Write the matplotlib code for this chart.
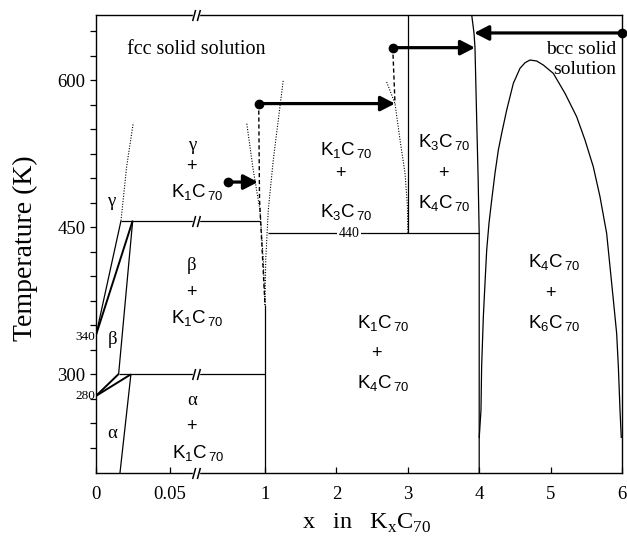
import numpy as np
import matplotlib
matplotlib.use('Agg')
import matplotlib.pyplot as plt
from matplotlib.path import Path

# ---------------- data ----------------
# broken x axis: [0, 0.0676] expanded, then compressed to 1, then linear 1..6
X_BREAK = [0.0, 0.0676, 1.0, 6.0]
U_BREAK = [0.0, 100.0, 169.0, 526.0]
X_BREAK_MARK = 0.0676

T_MIN, T_MAX = 199.4, 666.3
Y_TICKS = list(range(225, 651, 25))
Y_LABELED = [300, 450, 600]
X_TICKS = [0, 0.05, 1, 2, 3, 4, 5, 6]
X_TICK_LABELS = ['0', '0.05', '1', '2', '3', '4', '5', '6']

# low-x region boundaries (x, T)
GB_LEFT_X, GB_LEFT_T = [0.0, 0.0169], [340.0, 456.6]
GB_RIGHT_X, GB_RIGHT_T = [0.0, 0.0248], [340.0, 456.6]
BETA_X, BETA_T = [0.0248, 0.0153], [456.6, 300.3]
BA_LEFT_X, BA_LEFT_T = [0.0, 0.0153], [278.0, 300.3]
BA_RIGHT_X, BA_RIGHT_T = [0.0, 0.0236], [278.0, 300.0]
ALPHA_X, ALPHA_T = [0.0236, 0.0162], [300.0, 199.4]
GAMMA_DOT_X, GAMMA_DOT_T = [0.0169, 0.0207, 0.0252], [456.6, 511.6, 556.5]
H456_X, H456_T = [0.0169, 0.932], [456.6, 456.6]
H300_X, H300_T = [0.0153, 1.0], [300.0, 300.0]
H440_X, H440_T = [1.04, 4.0], [443.6, 443.6]

# x = 1 boundaries
X1_SOLID_X, X1_SOLID_T = [1.0, 1.0], [199.4, 370.6]
X1_DOT_L_X = [1.0, 0.977, 0.932, 0.841, 0.753]
X1_DOT_L_T = [370.6, 416.5, 467.5, 508.3, 555.9]
X1_DOT_R_X = [1.0, 1.01, 1.046, 1.116, 1.256]
X1_DOT_R_T = [370.6, 416.5, 467.5, 518.5, 600.0]
X1_DASH_X = [0.915, 0.926, 1.0]
X1_DASH_T = [576.0, 478.0, 370.6]

# x = 3 boundaries
X3_SOLID_X, X3_SOLID_T = [3.0, 3.0], [443.6, 666.3]
X3_DOT_X = [2.704, 2.821, 2.891, 2.961, 2.995, 3.0]
X3_DOT_T = [598.0, 576.0, 539.0, 505.0, 471.0, 443.6]
X3_DASH_X, X3_DASH_T = [2.789, 2.821], [633.0, 576.0]

# fcc / bcc boundary near x = 4
FB_X = [3.895, 3.927, 3.941, 3.965, 3.985, 4.0, 4.0]
FB_T = [666.3, 648.0, 633.0, 559.0, 500.0, 443.6, 199.4]

# K4C70 + K6C70 dome
DOME_X = [4.0, 4.025, 4.034, 4.058, 4.081, 4.105, 4.137, 4.175, 4.221, 4.268,
          4.315, 4.385, 4.478, 4.571, 4.641, 4.711, 4.805, 4.898, 5.038, 5.202,
          5.365, 5.482, 5.598, 5.692, 5.785, 5.832, 5.879, 5.925, 5.949, 5.972, 5.99]
DOME_T = [235.0, 263.6, 307.7, 358.7, 392.7, 426.7, 453.9, 477.7, 504.9, 528.6,
          545.7, 569.4, 596.6, 611.9, 617.6, 620.4, 619.4, 615.3, 606.8, 586.4,
          562.6, 538.8, 511.6, 481.0, 443.7, 409.7, 375.7, 341.8, 307.7, 263.6, 235.0]

# arrows: (x_start_dot, x_tip, T)
ARROWS = [(0.496, 0.905, 496.0),
          (0.915, 2.821, 576.0),
          (2.789, 3.941, 633.0),
          (6.0, 3.93, 648.0)]

# ---------------- plot ----------------
SERIF = 'Liberation Serif'
SANS = 'Liberation Sans'

fig = plt.figure(figsize=(6.27, 5.42), dpi=100)
ax = fig.add_axes([96 / 627, 69 / 542, 526 / 627, 458 / 542])


def fwd(x):
    return np.interp(x, X_BREAK, U_BREAK)


def inv(u):
    return np.interp(u, U_BREAK, X_BREAK)


ax.set_xscale('function', functions=(fwd, inv))
ax.set_xlim(0, 6)
ax.set_ylim(T_MIN, T_MAX)

lw = 0.9
dotted = dict(color='k', lw=0.8, linestyle=(0, (1, 1.4)))
dashed = dict(color='k', lw=1.0, linestyle=(0, (3, 2)))

for xs, ts, extra in [(GB_LEFT_X, GB_LEFT_T, 0), (GB_RIGHT_X, GB_RIGHT_T, 0.5),
                      (BETA_X, BETA_T, 0), (BA_LEFT_X, BA_LEFT_T, 0.5),
                      (BA_RIGHT_X, BA_RIGHT_T, 0.5), (ALPHA_X, ALPHA_T, 0),
                      (H456_X, H456_T, 0), (H300_X, H300_T, 0),
                      (H440_X, H440_T, 0), (X1_SOLID_X, X1_SOLID_T, 0),
                      (X3_SOLID_X, X3_SOLID_T, 0), (FB_X, FB_T, 0),
                      (DOME_X, DOME_T, 0)]:
    ax.plot(xs, ts, color='k', lw=lw + extra, solid_capstyle='butt',
            solid_joinstyle='round', zorder=2)

for xs, ts in [(GAMMA_DOT_X, GAMMA_DOT_T), (X1_DOT_L_X, X1_DOT_L_T),
               (X1_DOT_R_X, X1_DOT_R_T), (X3_DOT_X, X3_DOT_T)]:
    ax.plot(xs, ts, zorder=2, **dotted)
for xs, ts in [(X1_DASH_X, X1_DASH_T), (X3_DASH_X, X3_DASH_T)]:
    ax.plot(xs, ts, zorder=2, **dashed)

for x0, x1, t in ARROWS:
    ax.annotate('', xy=(x1, t), xytext=(x0, t),
                arrowprops=dict(arrowstyle='-|>,head_length=0.62,head_width=0.32',
                                lw=2.3, color='k', shrinkA=0, shrinkB=0,
                                mutation_scale=14), zorder=4)
    ax.plot(x0, t, 'o', ms=6, color='k', zorder=5, clip_on=False)

# axis break marks
gap_path = Path([(-0.5, -0.22), (0.5, -0.22), (0.5, 0.22), (-0.5, 0.22), (-0.5, -0.22)],
                [Path.MOVETO, Path.LINETO, Path.LINETO, Path.LINETO, Path.CLOSEPOLY])
brk_path = Path([(-0.7, -1), (-0.15, 1), (0.15, -1), (0.7, 1)],
                [Path.MOVETO, Path.LINETO, Path.MOVETO, Path.LINETO])
for t in [T_MAX, 456.6, 300.0, T_MIN]:
    ax.plot(X_BREAK_MARK, t, marker=gap_path, ms=5, color='white', mec='white',
            zorder=6, clip_on=False)
    ax.plot(X_BREAK_MARK, t, marker=brk_path, ms=8, mfc='none', mec='k', mew=1.1,
            zorder=7, clip_on=False)

# ticks
ax.set_xticks(X_TICKS)
ax.set_xticklabels(X_TICK_LABELS)
ax.set_yticks(Y_TICKS)
ax.set_yticklabels([str(t) if t in Y_LABELED else '' for t in Y_TICKS])
ax.tick_params(axis='x', direction='in', length=4, width=0.9, pad=9.5, labelsize=13.5)
ax.tick_params(axis='y', direction='out', length=4, width=0.9, pad=3.5, labelsize=13.5)
for lab in ax.get_xticklabels() + ax.get_yticklabels():
    lab.set_family(SERIF)
for sp in ax.spines.values():
    sp.set_linewidth(1.0)

for val, tpos in [('340', 338.0), ('280', 278.0)]:
    ax.annotate(val, xy=(0, tpos), xytext=(-0.5, 0), textcoords='offset points',
                ha='right', va='center', fontsize=9.5, family=SERIF)
ax.text(2.176, 443.6, '440', ha='center', va='center', fontsize=10, family=SERIF,
        bbox=dict(facecolor='white', edgecolor='none', pad=0.8), zorder=3)


# region labels
def klab(x, t, n):
    ax.text(x, t, r'$\mathregular{K_{%s}C_{\,70}}$' % n, ha='center', va='baseline',
            fontsize=13.5, family=SANS)


def plus(x, t):
    ax.text(x, t, '+', ha='center', va='center', fontsize=13, family=SANS)


def greek(x, t, g):
    ax.text(x, t, g, ha='center', va='center', fontsize=13.5, family=SERIF)


greek(0.0647, 533.7, 'γ'); plus(0.0647, 511.6); klab(0.077, 481.0, '1')
greek(0.0647, 410.7, 'β'); plus(0.0647, 383.2); klab(0.077, 352.0, '1')
greek(0.0647, 273.8, 'α'); plus(0.0647, 246.6); klab(0.0946, 214.4, '1')
greek(0.0106, 476.0, 'γ'); greek(0.0115, 336.0, 'β'); greek(0.0108, 240.0, 'α')

klab(2.144, 523.5, '1'); plus(2.05, 505.0); klab(2.144, 460.6, '3')
klab(3.507, 532.0, '3'); plus(3.497, 504.9); klab(3.507, 469.2, '4')
klab(2.657, 346.9, '1'); plus(2.564, 321.4); klab(2.657, 285.7, '4')
klab(5.05, 409.8, '4'); plus(4.99, 382.6); klab(5.05, 346.9, '6')

ax.text(0.077, 627.0, 'fcc solid solution', ha='center', va='baseline',
        fontsize=14.5, family=SERIF)
ax.text(5.916, 627.0, 'bcc solid', ha='right', va='baseline', fontsize=14, family=SERIF)
ax.text(5.916, 606.0, 'solution', ha='right', va='baseline', fontsize=14, family=SERIF)

ax.set_ylabel('Temperature (K)', fontsize=20, family=SERIF)
ax.yaxis.set_label_coords(-0.11, 0.49)
ax.set_xlabel(r'x   in   K$_{\mathregular{x}}$C$_{\mathregular{70}}$', fontsize=17.5,
              family=SERIF)
ax.xaxis.set_label_coords(0.515, -0.085)

fig.savefig('out.png', dpi=100)
